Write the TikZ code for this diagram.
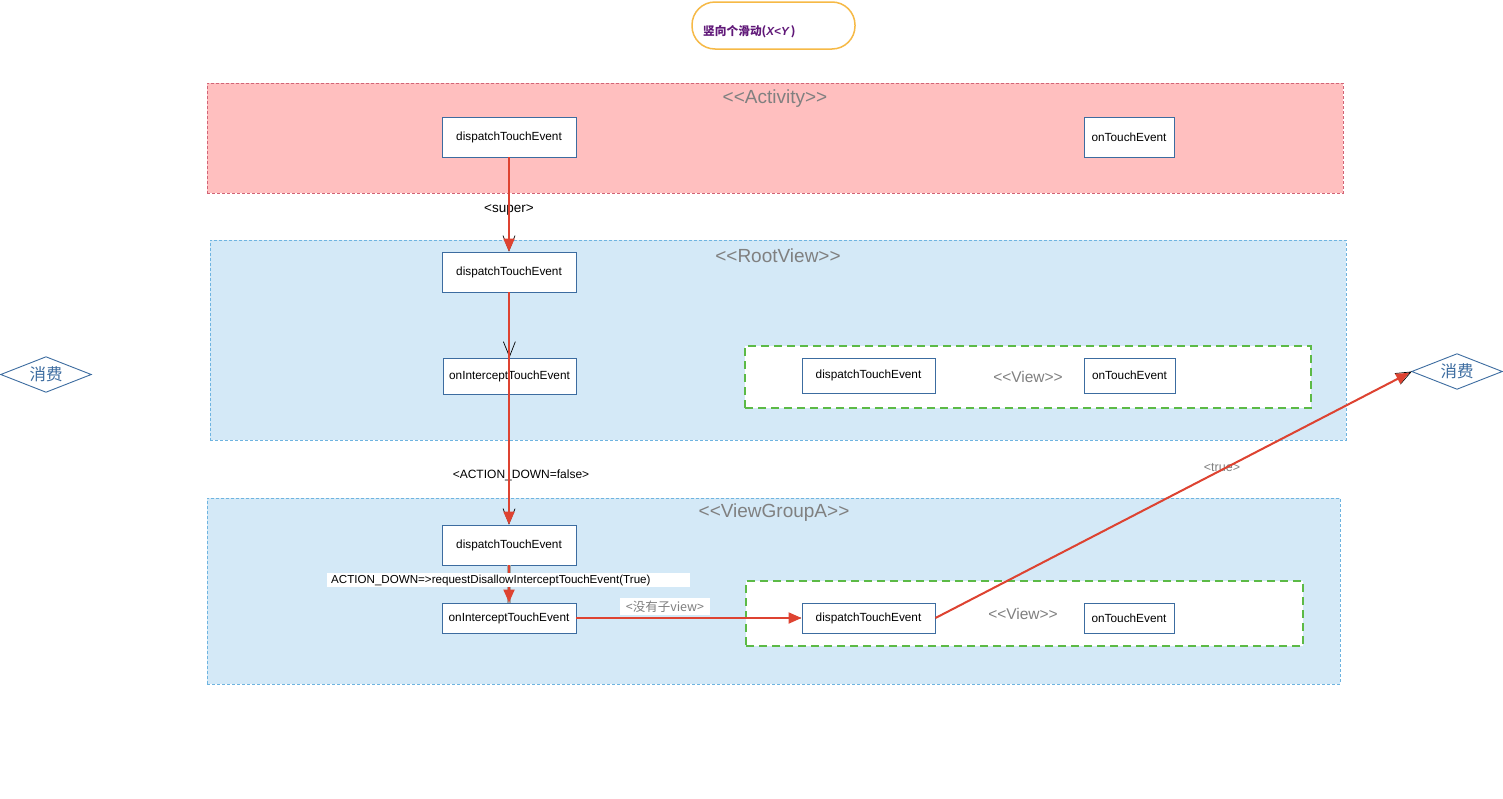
\documentclass[tikz,border=0pt]{standalone}
\usepackage{fontspec}
\setmainfont{Liberation Sans}[Ligatures=NoCommon]
\newfontfamily\cjk{Noto Sans CJK SC}
\usetikzlibrary{shapes.geometric,arrows.meta}
\definecolor{redline}{RGB}{222,67,49}
\definecolor{boxblue}{RGB}{60,108,160}
\definecolor{pinkfill}{RGB}{255,191,191}
\definecolor{pinkline}{RGB}{210,100,118}
\definecolor{bluefill}{RGB}{212,233,247}
\definecolor{blueline}{RGB}{110,180,224}
\definecolor{greenline}{RGB}{92,186,70}
\definecolor{titlepurple}{RGB}{96,24,120}
\definecolor{titleorange}{RGB}{246,185,70}
\definecolor{headgray}{RGB}{128,128,128}
\tikzset{
  fnbox/.style={draw=boxblue, line width=0.9pt, fill=white, inner sep=0pt,
    font=\fontsize{11.8}{14}\selectfont},
  container/.style={dashed, dash pattern=on 3pt off 2pt, line width=0.7pt, inner sep=0pt},
  viewbox/.style={draw=greenline, fill=white, line width=1.8pt, dash pattern=on 8pt off 5pt, inner sep=0pt},
  heading/.style={text=headgray, font=\fontsize{19}{21}\selectfont},
  redarrow/.style={draw=redline, line width=2pt, -{Triangle[length=13pt,width=11pt]}},
  blackbarb/.style={draw=black, line width=0.7pt, -{Straight Barb[length=15pt,width=12pt]}},
  grayunder/.style={draw=gray!70, line width=3.5pt},
  consume/.style={rectangle, inner sep=0pt, minimum width=90pt, minimum height=35pt,
    text=boxblue, font=\cjk\fontsize{16.5}{18}\selectfont},
  diamondline/.style={draw=boxblue, line width=0.9pt},
  lbl/.style={font=\fontsize{12}{14}\selectfont, inner sep=1pt},
}
\begin{document}
\begin{tikzpicture}[x=1pt,y=-1pt]
\useasboundingbox (0,0) rectangle (1503,798);
\fill[white] (0,0) rectangle (1503,798);

% title
\node[draw=titleorange, line width=1.5pt, rounded corners=23pt, minimum width=163pt, minimum height=47pt, inner sep=0pt] (title) at (773.5,25.5) {};
\node[anchor=west, text=titlepurple, font=\cjk\bfseries\fontsize{11.7}{13}\selectfont, inner sep=0pt] (titletxt) at (703,32) {竖向个滑动({\rmfamily\bfseries\itshape X<Y}\,)};

% containers
\node[container, draw=pinkline, fill=pinkfill, minimum width=1136pt, minimum height=110pt] (act) at (775,138) {};
\node[container, draw=blueline, fill=bluefill, minimum width=1136pt, minimum height=200pt] (rv) at (778,340) {};
\node[container, draw=blueline, fill=bluefill, minimum width=1133pt, minimum height=186pt] (vg) at (773.5,591) {};
\node[viewbox, minimum width=566pt, minimum height=62pt] (view1) at (1028,377) {};
\node[viewbox, minimum width=557pt, minimum height=65pt] (view2) at (1024.5,613.5) {};

% headings
\node[heading] (hact) at (775,99) {<{}<Activity>{}>};
\node[heading] (hrv) at (778,256) {<{}<RootView>{}>};
\node[heading] (hvg) at (774,513) {<{}<ViewGroupA>{}>};
\node[heading, font=\fontsize{15.5}{17}\selectfont] (hv1) at (1028,377) {<{}<View>{}>};
\node[heading, font=\fontsize{15.5}{17}\selectfont] (hv2) at (1023,614) {<{}<View>{}>};

% function boxes
\node[fnbox, minimum width=134pt, minimum height=40pt] (actD) at (509,137) {dispatchTouchEvent};
\node[fnbox, minimum width=90pt, minimum height=40pt] (actT) at (1129,137) {onTouchEvent};
\node[fnbox, minimum width=134pt, minimum height=40pt] (rvD) at (509,272) {dispatchTouchEvent};
\node[fnbox, minimum width=133pt, minimum height=36pt] (rvI) at (509.5,376) {onInterceptTouchEvent};
\node[fnbox, minimum width=133pt, minimum height=35pt] (v1D) at (868.5,375.5) {dispatchTouchEvent};
\node[fnbox, minimum width=91pt, minimum height=35pt] (v1T) at (1129.5,375.5) {onTouchEvent};
\node[fnbox, minimum width=134pt, minimum height=40pt] (vgD) at (509,545) {dispatchTouchEvent};
\node[fnbox, minimum width=134pt, minimum height=30pt] (vgI) at (509,618) {onInterceptTouchEvent};
\node[fnbox, minimum width=133pt, minimum height=30pt] (v2D) at (868.5,618) {dispatchTouchEvent};
\node[fnbox, minimum width=90pt, minimum height=30pt] (v2T) at (1129,618) {onTouchEvent};

% consume diamonds
\node[consume] (cL) at (46,374.5) {消费};
\draw[diamondline] (cL.west) -- (cL.north) -- (cL.east) -- (cL.south) -- cycle;
\node[consume] (cR) at (1457,371.5) {消费};
\draw[diamondline] (cR.west) -- (cR.north) -- (cR.east) -- (cR.south) -- cycle;

% labels
\node[lbl, font=\fontsize{13.5}{15}\selectfont] (lsuper) at (509,210) {<super>};
\node[lbl] (lfalse) at (521,475) {<ACTION\_DOWN=false>};
\node[lbl, text=headgray, font=\fontsize{12.5}{14}\selectfont] (ltrue) at (1222,468) {<true>};

% connectors
\draw[blackbarb] (actD.south) -- (rvD.north);
\draw[redarrow] (actD.south) -- (rvD.north);

\draw[blackbarb, dashed] (rvD.south) -- (rvI.north);
\draw[blackbarb, dashed] (rvI.south) -- (vgD.north);
\draw[redarrow] (rvD.south) -- (vgD.north);

\draw[grayunder] (vgD.south) -- (vgI.north);
\draw[redarrow] (vgD.south) -- (vgI.north);
\node[fill=white, minimum width=363pt, minimum height=14pt, inner sep=0pt] (lreqbox) at (508.5,580) {};
\node[anchor=west, inner sep=0pt, font=\fontsize{11.6}{13}\selectfont] (lreq) at (331,580) {ACTION\_DOWN=>requestDisallowInterceptTouchEvent(True)};

\draw[draw=gray!60, line width=2.5pt, dashed] (vgI.east) -- (v2D.west);
\draw[redarrow] (vgI.east) -- (v2D.west);
\node[fill=white, text=headgray, minimum width=90pt, minimum height=17pt, inner sep=0pt, font=\cjk\fontsize{12.5}{14}\selectfont] (lnochild) at (665,606.5) {<没有子view>};

\draw[blackbarb] (v2D.east) -- (cR.west);
\draw[redarrow, shorten >=3pt] (v2D.east) -- (cR.west);
\end{tikzpicture}
\end{document}
